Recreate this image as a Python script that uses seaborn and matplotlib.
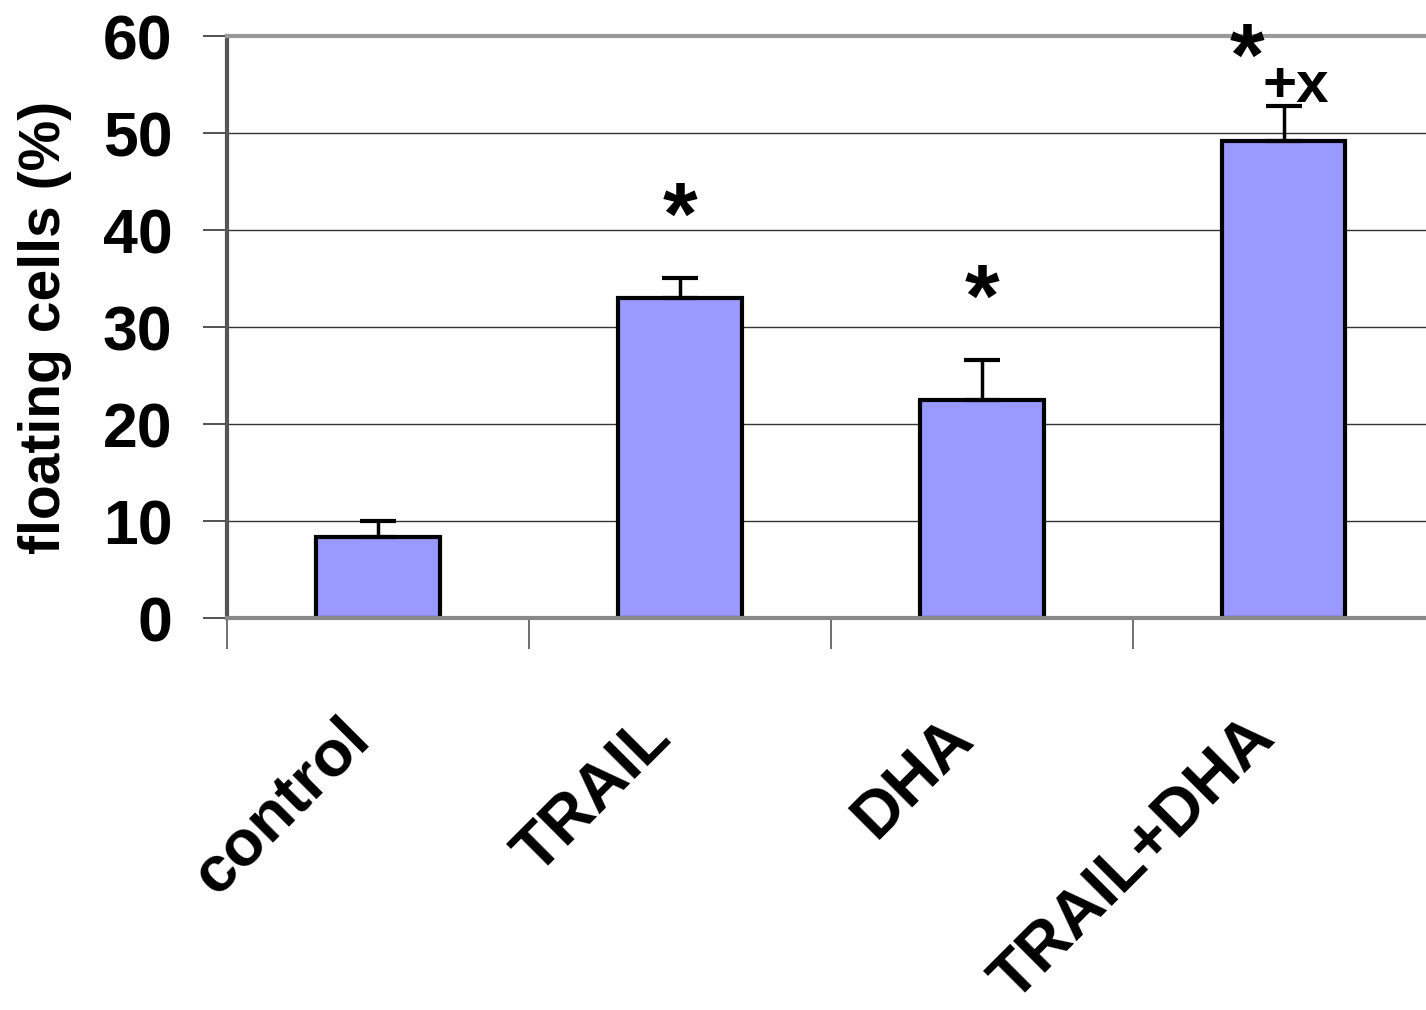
import matplotlib
matplotlib.use("Agg")
import matplotlib.pyplot as plt
import seaborn as sns
import pandas as pd
import numpy as np

sns.set_theme(style="white")
plt.rcParams["font.family"] = ["Liberation Sans", "DejaVu Sans"]
plt.rcParams["font.weight"] = "bold"
plt.rcParams["text.color"] = "black"
plt.rcParams["xtick.color"] = "black"
plt.rcParams["ytick.color"] = "black"
plt.rcParams["axes.labelcolor"] = "black"

groups = ["control", "TRAIL", "DHA", "TRAIL+DHA"]
floating = [8.4, 33.0, 22.5, 49.2]
err_up = [1.6, 2.1, 4.1, 3.6]
marks = ["", "*", "*", "*"]

df = pd.DataFrame({"group": groups, "floating": floating})

fig = plt.figure(figsize=(14.26, 10.10), dpi=100)
ax = fig.add_axes([0.159, 0.388, 0.847, 0.576])

sns.barplot(data=df, x="group", y="floating", color="#9999FF", width=0.41,
            edgecolor="black", linewidth=3, saturation=1, errorbar=None, ax=ax)

xs = np.arange(len(groups))
ax.errorbar(xs, floating, yerr=[np.zeros(len(groups)), err_up], fmt="none",
            ecolor="black", elinewidth=2.5, capsize=13, capthick=3, zorder=1)

# significance marks
for x, v, e, m in zip(xs, floating, err_up, marks):
    if m:
        top = v + e
        if x == 3:
            ax.text(x - 0.12, 57.4, m, ha="center", va="center", fontsize=64,
                    fontweight="bold", clip_on=False)
            ax.text(x + 0.04, 54.8, "+x", ha="center", va="center", fontsize=42,
                    fontweight="bold", clip_on=False)
        else:
            ax.text(x, top + 5.9, m, ha="center", va="center", fontsize=64,
                    fontweight="bold")

ax.set_ylim(0, 60)
ax.set_xlim(-0.5, 3.5)
ax.set_yticks(range(0, 61, 10))
ax.yaxis.grid(True, color="#333333", linewidth=1.0)
ax.set_axisbelow(True)

# category boundary ticks; labels sit on hidden minor ticks, nudged left
ax.set_xticks([-0.5, 0.5, 1.5, 2.5])
ax.set_xticklabels([])
ax.set_xticks(xs - 0.13, minor=True)
ax.set_xticklabels(groups, minor=True, rotation=45, ha="right",
                   rotation_mode="anchor", fontsize=47, fontweight="bold")
ax.tick_params(axis="x", which="major", length=22, width=1.2, color="#555555",
               bottom=True)
ax.tick_params(axis="x", which="minor", length=0, pad=64)
ax.tick_params(axis="y", length=17, width=1.2, color="#333333", left=True,
               pad=22, labelsize=45)
for lab in ax.get_yticklabels():
    lab.set_fontweight("bold")

ax.set_xlabel("")
ax.set_ylabel("floating cells (%)", fontsize=41, fontweight="bold", labelpad=22)

ax.spines["left"].set_color("#555555")
ax.spines["left"].set_linewidth(3)
ax.spines["top"].set_color("#999999")
ax.spines["top"].set_linewidth(3)
ax.spines["bottom"].set_color("#888888")
ax.spines["bottom"].set_linewidth(3)
ax.spines["right"].set_visible(False)

fig.savefig("out.png", dpi=100)
plt.close(fig)
